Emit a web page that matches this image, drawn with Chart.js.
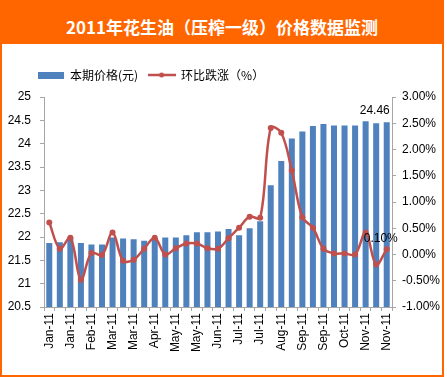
<!DOCTYPE html>
<html>
<head>
<meta charset="utf-8">
<script src="https://cdn.jsdelivr.net/npm/chart.js@4.4.1/dist/chart.umd.min.js"></script>
<style>
    body { margin: 0; background: #fff; }
    #frame { position: relative; width: 444px; height: 377px; box-sizing: border-box; border: 2px solid #ff6600; border-top: none; }
    #title { height: 44px; background: #ff6600; color: #fff; text-align: center; line-height: 48px;
             font: bold 17px "Noto Sans CJK SC", sans-serif; overflow: hidden; }
    #title span { position: relative; top: 14px; }
    #wrap { position: absolute; left: 0; top: 44px; width: 440px; height: 331px; }
</style>
</head>
<body>
<div id="frame">
    <div id="title"><span>2011年花生油（压榨一级）价格数据监测</span></div>
    <div id="wrap"><canvas id="chart"></canvas></div>
</div>
<script>
// categorias (semanal, se muestra una de cada dos)
const labels = ['Jan-11', 'Jan-11', 'Jan-11', 'Feb-11', 'Feb-11', 'Mar-11', 'Mar-11', 'Mar-11', 'Mar-11',
    'Apr-11', 'Apr-11', 'Apr-11', 'May-11', 'May-11', 'May-11', 'Jun-11', 'Jun-11', 'Jun-11',
    'Jul-11', 'Jul-11', 'Jul-11', 'Aug-11', 'Aug-11', 'Aug-11', 'Sep-11', 'Sep-11', 'Sep-11',
    'Oct-11', 'Oct-11', 'Oct-11', 'Nov-11', 'Nov-11', 'Nov-11'];

// 本期价格(元)
const prices = [21.87, 21.89, 21.99, 21.87, 21.84, 21.84, 21.99, 21.97, 21.95, 21.92, 21.98,
    21.99, 21.99, 22.04, 22.10, 22.10, 22.12, 22.17, 22.04, 22.19, 22.34, 23.11, 23.63,
    24.11, 24.26, 24.38, 24.42, 24.39, 24.39, 24.39, 24.48, 24.44, 24.46];

// 环比跌涨（%）
const changes = [0.61, 0.11, 0.32, -0.48, 0.03, -0.01, 0.42, -0.12, -0.10, 0.11, 0.32, 0.00,
    0.12, 0.21, 0.21, 0.12, 0.11, 0.31, 0.51, 0.72, 0.70, 2.41, 2.32, 1.60, 0.71, 0.51,
    0.11, 0.02, 0.02, 0.00, 0.42, -0.19, 0.10];

const seriesNames = ['本期价格(元)', '环比跌涨（%）'];

const BAR = '#4f81bd';
const LINE = '#c0504d';
const AXIS = '#a6a6a6';

Chart.defaults.font.family = '"Liberation Sans", Arial, sans-serif';
Chart.defaults.font.size = 12;
Chart.defaults.color = '#000';

// muestras de leyenda dibujadas a mano
function swatch(kind) {
    const c = document.createElement('canvas');
    const g = c.getContext('2d');
    if (kind === 'bar') {
        c.width = 26; c.height = 7;
        g.fillStyle = BAR;
        g.fillRect(0, 0, 26, 7);
    } else {
        c.width = 28; c.height = 8;
        g.strokeStyle = LINE; g.lineWidth = 2.5;
        g.beginPath(); g.moveTo(0, 4); g.lineTo(28, 4); g.stroke();
        g.fillStyle = LINE;
        g.beginPath(); g.arc(14, 4, 2.5, 0, Math.PI * 2); g.fill();
    }
    return c;
}

// leyenda: espacio extra debajo y desplazada a la derecha
const legendTweak = {
    id: 'legendTweak',
    beforeLayout(chart) {
        const lg = chart.legend;
        if (lg && !lg.$gap) {
            const fit = lg.fit;
            lg.fit = function () { fit.call(this); this.height += 6; };
            lg.$gap = true;
        }
    },
    afterLayout(chart) {
        if (chart.legend) chart.legend.left = 25;
    }
};

// etiquetas del ultimo punto
const valueLabels = {
    id: 'valueLabels',
    afterDatasetsDraw(chart) {
        const ctx = chart.ctx;
        const last = prices.length - 1;
        const bar = chart.getDatasetMeta(0).data[last];
        const pt = chart.getDatasetMeta(1).data[last];
        ctx.save();
        ctx.font = '12px "Liberation Sans", Arial, sans-serif';
        ctx.fillStyle = '#000';
        ctx.textAlign = 'center';
        ctx.textBaseline = 'alphabetic';
        ctx.fillText(prices[last].toFixed(2), bar.x - 12, bar.y - 8);
        ctx.fillText(changes[last].toFixed(2) + '%', pt.x - 6, pt.y - 7);
        ctx.restore();
    }
};

new Chart(document.getElementById('chart'), {
    type: 'bar',
    data: {
        labels: labels,
        datasets: [
            {
                type: 'bar', label: seriesNames[0], data: prices, yAxisID: 'y',
                backgroundColor: BAR, categoryPercentage: 1, barPercentage: 0.57, order: 1
            },
            {
                type: 'line', label: seriesNames[1], data: changes, yAxisID: 'y1',
                borderColor: LINE, backgroundColor: LINE, borderWidth: 2.5, tension: 0.35,
                pointRadius: 3, pointBorderWidth: 0, pointBackgroundColor: LINE, order: 0
            }
        ]
    },
    options: {
        responsive: true,
        maintainAspectRatio: false,
        animation: false,
        layout: { padding: { left: 0, right: 0, top: 15, bottom: 0 } },
        plugins: {
            tooltip: { enabled: false },
            legend: {
                position: 'top',
                align: 'start',
                labels: {
                    usePointStyle: true,
                    pointStyleWidth: 27,
                    padding: 10,
                    color: '#000',
                    font: { family: '"Noto Sans CJK SC", sans-serif', size: 12 },
                    sort: (a, b) => a.datasetIndex - b.datasetIndex,
                    generateLabels(chart) {
                        const items = Chart.defaults.plugins.legend.labels.generateLabels(chart);
                        items.forEach(it => { it.pointStyle = swatch(it.datasetIndex === 0 ? 'bar' : 'line'); });
                        return items;
                    }
                }
            }
        },
        scales: {
            x: {
                grid: { drawOnChartArea: false, tickLength: 4, color: AXIS },
                border: { color: AXIS },
                ticks: {
                    autoSkip: false, minRotation: 90, maxRotation: 90, padding: 2,
                    callback: (v, i) => (i % 2 === 0 ? labels[i] : '')
                },
                afterFit: s => { s.height = 68; }
            },
            y: {
                position: 'left', min: 20.5, max: 25,
                grid: { drawOnChartArea: false, tickLength: 4, color: AXIS },
                border: { color: AXIS },
                ticks: { stepSize: 0.5, padding: 9, callback: v => String(Math.round(v * 10) / 10) },
                afterFit: s => { s.width = 42; }
            },
            y1: {
                position: 'right', min: -1, max: 3,
                grid: { drawOnChartArea: false, tickLength: 4, color: AXIS },
                border: { color: AXIS },
                ticks: { stepSize: 0.5, padding: 6, callback: v => v.toFixed(2) + '%' },
                afterFit: s => { s.width = 50; }
            }
        }
    },
    plugins: [legendTweak, valueLabels]
});
</script>
</body>
</html>
